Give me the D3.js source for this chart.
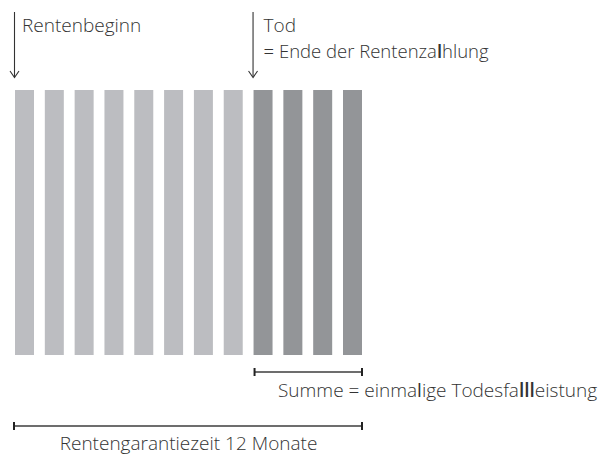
<!DOCTYPE html>
<html>
<head>
<meta charset="utf-8">
<script src="https://cdn.jsdelivr.net/npm/d3@7"></script>
<style>
  body { margin: 0; background: #fff; }
  text { font-family: "Open Sans", "DejaVu Sans", sans-serif; font-weight: 300; fill: #333; }
</style>
</head>
<body>
<div id="chart"></div>
<script>
// 12 Monate Rentengarantiezeit, Tod nach dem 8. Monat
const months = [1, 2, 3, 4, 5, 6, 7, 8, 9, 10, 11, 12];
const phase = ["rente", "rente", "rente", "rente", "rente", "rente", "rente", "rente",
               "todesfall", "todesfall", "todesfall", "todesfall"];
const amount = [1, 1, 1, 1, 1, 1, 1, 1, 1, 1, 1, 1];

const width = 598, height = 458;

const svg = d3.select("#chart")
    .append("svg")
    .attr("width", width)
    .attr("height", height);

const x = d3.scaleBand()
    .domain(months)
    .range([15, 362])
    .paddingInner(0.363)
    .paddingOuter(0);

const y = d3.scaleLinear()
    .domain([0, 1])
    .range([355, 90]);

const color = d3.scaleOrdinal()
    .domain(["rente", "todesfall"])
    .range(["#bcbdc1", "#939598"]);

const bars = months.map((m, i) => ({ month: m, phase: phase[i], value: amount[i] }));

svg.selectAll("rect.bar")
    .data(bars)
    .enter()
    .append("rect")
    .attr("class", "bar")
    .attr("x", d => x(d.month))
    .attr("width", x.bandwidth())
    .attr("y", d => y(d.value))
    .attr("height", d => y(0) - y(d.value))
    .attr("fill", d => color(d.phase));

// Pfeile oben
function arrow(px) {
    const g = svg.append("g").attr("stroke", "#333").attr("stroke-width", 1.1).attr("fill", "none");
    g.append("line").attr("x1", px).attr("x2", px).attr("y1", 12).attr("y2", 77);
    g.append("path").attr("d", `M${px - 4.5},${71} L${px},${77.5} L${px + 4.5},${71}`);
}
const firstDeath = months[phase.indexOf("todesfall")];
arrow(x(months[0]) - 0.5);
arrow(x(firstDeath) - 0.5);

const fs = "19px";

svg.append("text").attr("x", x(months[0]) + 7).attr("y", 32)
    .style("font-size", fs).text("Rentenbeginn");

svg.append("text").attr("x", x(firstDeath) + 10).attr("y", 32)
    .style("font-size", fs).text("Tod");
const t2 = svg.append("text").attr("x", x(firstDeath) + 10).attr("y", 58)
    .style("font-size", "18.5px");
t2.append("tspan").text("= Ende der Rentenza");
t2.append("tspan").style("font-weight", 600).text("l");
t2.append("tspan").text("hlung");

// Klammern unten
function bracket(x1, x2, yy) {
    const g = svg.append("g");
    g.append("line").attr("x1", x1).attr("x2", x2).attr("y1", yy).attr("y2", yy)
        .attr("stroke", "#6d6d6d").attr("stroke-width", 2);
    [x1, x2].forEach(px => {
        g.append("line").attr("x1", px).attr("x2", px).attr("y1", yy - 4).attr("y2", yy + 4)
            .attr("stroke", "#222").attr("stroke-width", 2);
    });
}
const lastMonth = months[months.length - 1];
bracket(x(firstDeath) + 1, x(lastMonth) + x.bandwidth(), 372);
bracket(x(months[0]) - 1, x(lastMonth) + x.bandwidth(), 426);

const s = svg.append("text").attr("x", 278).attr("y", 397).style("font-size", fs);
s.append("tspan").text("Summe = einma");
s.append("tspan").style("font-weight", 500).text("l");
s.append("tspan").text("ige Todesfa");
s.append("tspan").style("font-weight", 600).text("lll");
s.append("tspan").text("eistung");

svg.append("text")
    .attr("x", (x(months[0]) + x(lastMonth) + x.bandwidth()) / 2)
    .attr("y", 450)
    .attr("text-anchor", "middle")
    .style("font-size", fs)
    .text("Rentengarantiezeit " + months.length + " Monate");
</script>
</body>
</html>
